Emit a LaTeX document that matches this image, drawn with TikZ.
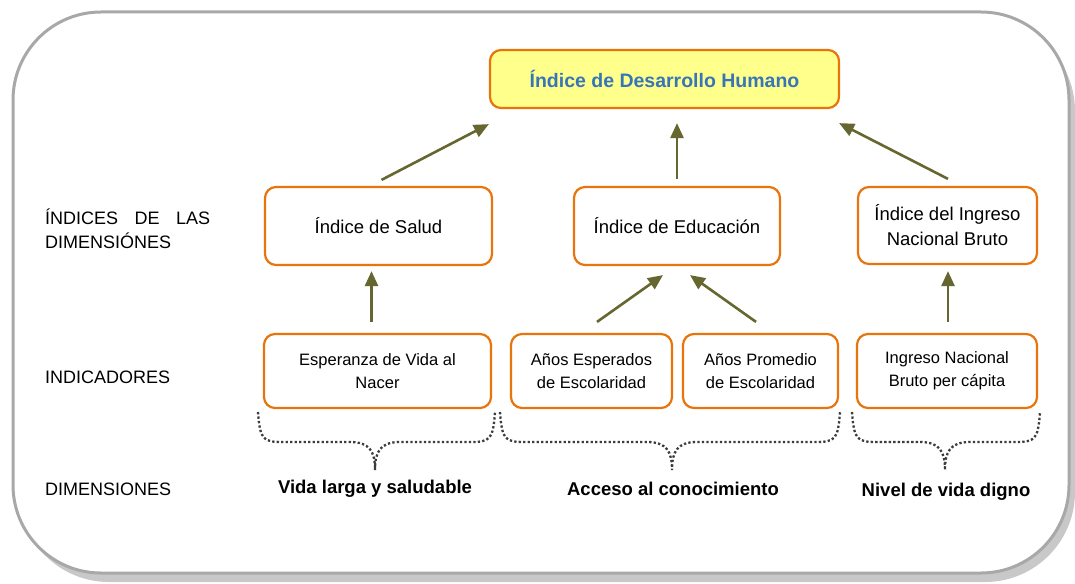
\documentclass[tikz,border=0pt]{standalone}
\usepackage{fontspec}
\setmainfont{Liberation Sans}
\usetikzlibrary{arrows.meta,calc}

\definecolor{naranja}{RGB}{232,116,12}
\definecolor{amarillo}{RGB}{255,255,140}
\definecolor{azul}{RGB}{54,117,184}
\definecolor{oliva}{RGB}{102,102,48}
\definecolor{marco}{RGB}{168,168,168}
\definecolor{sombra}{RGB}{200,200,200}
\definecolor{punteado}{RGB}{60,60,60}

\tikzset{
  caja/.style={draw=naranja, line width=2.2pt, rounded corners=11pt, inner sep=0pt,
    align=center, font=\fontsize{18.5}{25}\selectfont},
  indic/.style={caja, font=\fontsize{16.5}{23}\selectfont},
  flecha/.style={draw=oliva, line width=2.6pt, -{Triangle[length=15pt,width=13pt]}},
  llave/.style={draw=punteado, line width=2.3pt, dash pattern=on 2.3pt off 2.2pt},
  etiq/.style={anchor=west, inner sep=0pt, align=left, font=\fontsize{18}{24}\selectfont},
  dimen/.style={inner sep=0pt, font=\bfseries\fontsize{18.5}{22}\selectfont}
}

% llave punteada: extremo izquierdo, punta, extremo derecho
\newcommand{\dibujallave}[3]{%
  \draw[llave] (#1,412) .. controls (#1+2,440) and (#1+5,442) .. (#1+25,442)
    -- (#2-25,442) .. controls (#2-5,442) and (#2,452) .. (#2,470)
    .. controls (#2,452) and (#2+5,442) .. (#2+25,442)
    -- (#3-25,442) .. controls (#3-5,442) and (#3-2,440) .. (#3,412);}

\begin{document}
\begin{tikzpicture}[x=1pt, y=-1pt]
  \useasboundingbox (0,0) rectangle (1075,583);

  % marco con sombra
  \fill[sombra, rounded corners=90pt] (19,21) rectangle (1075,582);
  \draw[marco, fill=white, line width=3pt, rounded corners=88pt] (13,12) rectangle (1069,573);

  % indice compuesto
  \node[caja, fill=amarillo, minimum width=349pt, minimum height=58pt,
        text=azul, font=\bfseries\fontsize{19.5}{24}\selectfont] (idh) at (664.5,79)
        {Índice de Desarrollo Humano};

  % indices de las dimensiones
  \node[caja, minimum width=227pt, minimum height=78pt] (salud) at (378.5,226) {Índice de Salud};
  \node[caja, minimum width=206pt, minimum height=78pt] (educ) at (677,226) {Índice de Educación};
  \node[caja, minimum width=179pt, minimum height=77pt] (inb) at (947.5,225.5)
        {Índice del Ingreso\\Nacional Bruto};

  % indicadores
  \node[indic, minimum width=227pt, minimum height=74pt] (esper) at (377.5,371)
        {Esperanza de Vida al\\Nacer};
  \node[indic, minimum width=161pt, minimum height=74pt] (anesp) at (591.5,371)
        {Años Esperados\\de Escolaridad};
  \node[indic, minimum width=155pt, minimum height=74pt] (anprom) at (760.5,371)
        {Años Promedio\\de Escolaridad};
  \node[indic, minimum width=180pt, minimum height=74pt] (inbpc) at (947,371)
        {Ingreso Nacional\\Bruto per cápita};

  % flechas
  \draw[flecha] ($(salud.north)+(3,-6)$) -- ($(idh.south west)+(0,15)$);
  \draw[flecha, shorten <=7pt, shorten >=14pt] (educ.north) -- (educ.north |- idh.south);
  \draw[flecha] ($(inb.north)+(0.5,-7)$) -- ($(idh.south east)+(-1,14)$);
  \draw[flecha] ($(esper.north)+(-6,-11)$) -- ($(salud.south)+(-7,5)$);
  \draw[flecha] ($(anesp.north)+(5.5,-11)$) -- ($(educ.south)+(-14,9)$);
  \draw[flecha] ($(anprom.north)+(-4.5,-11)$) -- ($(educ.south)+(13,9)$);
  \draw[flecha] ($(inbpc.north)+(1,-11)$) -- ($(inb.south)+(0.5,6)$);

  % llaves
  \dibujallave{258}{375}{495}
  \dibujallave{500}{672}{840}
  \dibujallave{852}{945}{1040}

  % dimensiones
  \node[dimen] (vida) at (375,489) {Vida larga y saludable};
  \node[dimen] (acceso) at (673,489) {Acceso al conocimiento};
  \node[dimen] (nivel) at (946,492) {Nivel de vida digno};

  % etiquetas de la izquierda
  \node[etiq] (lindices) at (45,229) {\makebox[165pt][s]{ÍNDICES DE LAS}\\DIMENSIÓNES};
  \node[etiq] (lindic) at (45,377) {INDICADORES};
  \node[etiq] (ldimen) at (45,489) {DIMENSIONES};
\end{tikzpicture}
\end{document}
